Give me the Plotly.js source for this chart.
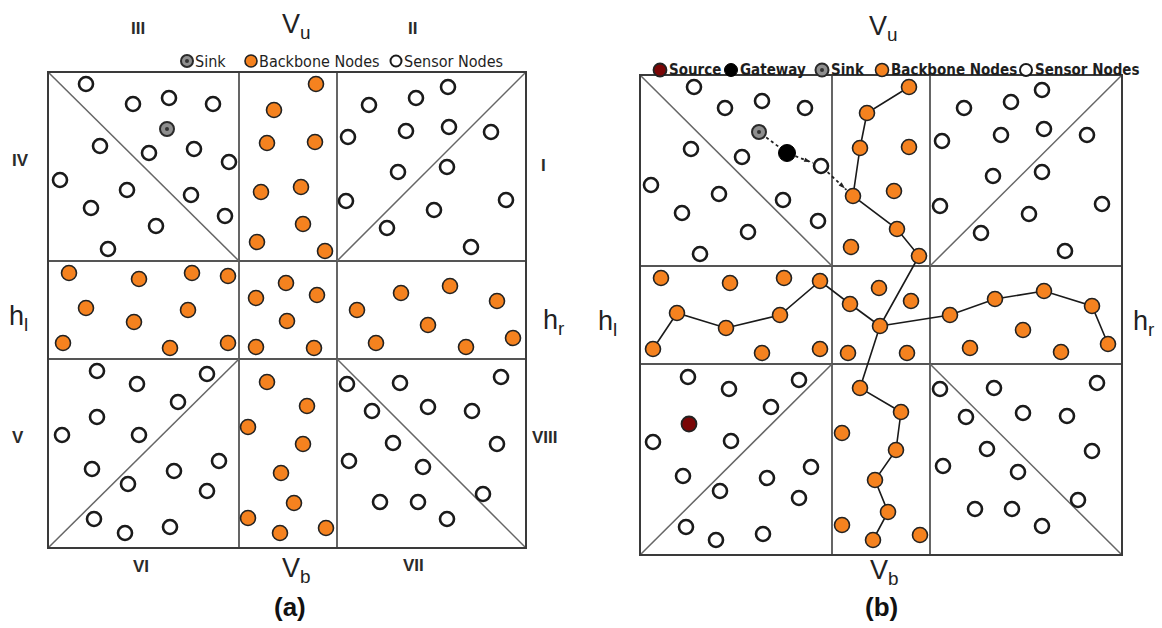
<!DOCTYPE html>
<html><head><meta charset="utf-8">
<script src="https://cdn.plot.ly/plotly-3.0.1.min.js"></script>
<style>html,body{margin:0;padding:0;background:#fff;overflow:hidden}#chart{width:1162px;height:628px}</style>
</head><body><div id="chart"></div>
<script>
// ---------- Panel (a) data ----------
const aSensors = [
  [86,84],[133,104],[169,98],[213,104],[100,146],[149,153],[194,149],[229,162],[60,180],[127,190],[191,195],[91,208],[225,216],[156,226],[108,249],
  [448,87],[416,98],[369,105],[406,131],[449,127],[491,132],[348,137],[398,172],[447,167],[346,201],[506,200],[434,210],[387,228],[471,247],
  [97,371],[137,384],[207,374],[178,402],[97,417],[62,435],[139,435],[92,469],[219,461],[174,471],[128,484],[207,491],[94,519],[125,533],[170,527],
  [347,384],[400,383],[501,377],[372,411],[428,407],[472,411],[393,443],[497,444],[349,461],[423,467],[483,494],[380,502],[418,502],[447,519]
];
const aBackbone = [
  [274,110],[316,84],[267,143],[315,142],[261,192],[301,187],[303,224],[257,242],[325,251],
  [69,273],[139,279],[192,273],[228,276],[86,308],[134,322],[188,310],[63,343],[170,348],[228,343],
  [256,298],[286,283],[317,295],[287,321],[256,347],[314,348],
  [401,293],[450,286],[497,301],[357,310],[428,325],[376,343],[466,347],[513,338],
  [267,382],[307,406],[248,427],[303,444],[281,473],[294,503],[248,518],[280,533],[326,528]
];
const aSink = [[167,129]];

// ---------- Panel (b) data ----------
const bSensors = [
  [694,87],[725,108],[762,101],[805,108],[691,149],[742,157],[821,166],[651,185],[719,194],[783,200],[682,213],[818,221],[748,232],[700,254],
  [1042,90],[1011,102],[964,108],[1001,135],[1044,129],[1087,135],[942,141],[993,176],[1042,172],[940,206],[1102,204],[1029,214],[981,233],[1065,251],
  [688,377],[729,389],[799,380],[771,407],[653,442],[731,441],[683,476],[811,467],[767,478],[720,491],[799,498],[686,527],[716,540],[763,534],
  [940,389],[994,388],[1097,383],[966,417],[1023,413],[1067,416],[987,449],[1092,451],[943,466],[1018,472],[1078,500],[975,509],[1012,509],[1042,526]
];
const bBackbone = [
  [909,87],[867,113],[860,148],[909,147],[853,196],[894,191],[897,229],[851,247],[919,256],
  [661,278],[730,283],[784,278],[820,281],[677,313],[726,328],[780,315],[653,349],[762,353],[820,349],
  [850,304],[879,288],[911,301],[880,326],[848,353],[907,353],
  [995,299],[1044,291],[1092,306],[950,315],[1023,330],[970,348],[1061,352],[1108,344],
  [860,388],[901,412],[842,433],[896,450],[875,480],[888,512],[842,525],[873,540],[920,535]
];
const bSink = [[759,132]];
const bGateway = [[787,153]];
const bSource = [[689,424]];
// routes through backbone (indices into bBackbone)
const bRoutes = [
  [0,1,2,4,6,8,22],
  [16,13,14,15,12,19,22],
  [22,28,25,26,27,32],
  [22,33,34,36,37,38,40]
];
// dashed forwarding path: sink -> gateway -> sensor -> backbone
const bForward = [bSink[0], bGateway[0], bSensors[6], bBackbone[4]];

// ---------- legends and labels ----------
const legendA = [
  {kind:'sink', label:'Sink', x:187, tx:193, y:61},
  {kind:'backbone', label:'Backbone Nodes', x:251, tx:257, y:61},
  {kind:'sensor', label:'Sensor Nodes', x:396, tx:402, y:61}
];
const legendB = [
  {kind:'source', label:'Source', x:660, tx:667, y:70},
  {kind:'gateway', label:'Gateway', x:731, tx:738, y:70},
  {kind:'sink', label:'Sink', x:822, tx:829, y:70},
  {kind:'backbone', label:'Backbone Nodes', x:882, tx:889, y:70},
  {kind:'sensor', label:'Sensor Nodes', x:1026, tx:1033, y:70}
];
const romanA = [
  ['III',138,28],['II',412,28],['IV',20,160],['I',543,165],
  ['V',18,437],['VIII',545,437],['VI',141,566],['VII',413,565]
];
const bigLabels = [
  ['V<sub>u</sub>',296,26],['h<sub>l</sub>',18,318],['h<sub>r</sub>',553,322],['V<sub>b</sub>',296,570],
  ['V<sub>u</sub>',883,28],['h<sub>l</sub>',607,323],['h<sub>r</sub>',1143,323],['V<sub>b</sub>',884,572]
];
const panelTags = [['(a)',290,607],['(b)',881,607]];

// ---------- geometry of the two grids ----------
const gridA = {x:[48,239,337,526], y:[72,261,359,548]};
const gridB = {x:[640,832,930,1122], y:[75,266,364,555]};

const X = p => p.map(q=>q[0]);
const Y = p => p.map(q=>q[1]);

const sensorM = {symbol:'circle', size:14, color:'#ffffff', line:{color:'#1a1a1a', width:2.6}};
const backM = {symbol:'circle', size:15, color:'#F5821F', line:{color:'#222', width:1.6}};
const sinkM = {symbol:'circle', size:14, color:'#8f8f8f', line:{color:'#2a2a2a', width:2}};
const sinkDot = {symbol:'circle', size:4, color:'#333', line:{width:0}};
const gateM = {symbol:'circle', size:17, color:'#000', line:{color:'#000', width:1}};
const srcM = {symbol:'circle', size:15, color:'#7a0606', line:{color:'#222', width:1.8}};

const traces = [];
bRoutes.forEach(r => {
  traces.push({type:'scatter', mode:'lines', x:r.map(i=>bBackbone[i][0]), y:r.map(i=>bBackbone[i][1]),
    line:{color:'#1a1a1a', width:1.6}, hoverinfo:'skip', showlegend:false});
});
for (let i=0;i<bForward.length-1;i++){
  const p=bForward[i], q=bForward[i+1];
  const dx=q[0]-p[0], dy=q[1]-p[1], L=Math.hypot(dx,dy);
  const ux=dx/L, uy=dy/L, r0=9, r1=9;
  const s=[p[0]+ux*r0, p[1]+uy*r0], e=[q[0]-ux*r1, q[1]-uy*r1];
  traces.push({type:'scatter', mode:'lines', x:[s[0],e[0]], y:[s[1],e[1]],
    line:{color:'#222', width:1.8, dash:'3px,3px'}, hoverinfo:'skip', showlegend:false});
  if (i>0){
    const ang = Math.atan2(dx,-dy)*180/Math.PI;
    traces.push({type:'scatter', mode:'markers', x:[e[0]-ux*2], y:[e[1]-uy*2],
      marker:{symbol:'arrow', size:7, angle:ang, color:'#222', line:{width:0}}, hoverinfo:'skip', showlegend:false});
  }
}
function nodes(pts, m){ traces.push({type:'scatter', mode:'markers', x:X(pts), y:Y(pts), marker:m, hoverinfo:'skip', showlegend:false}); }
nodes(aSensors, sensorM); nodes(aBackbone, backM); nodes(aSink, sinkM); nodes(aSink, sinkDot);
nodes(bSensors, sensorM); nodes(bBackbone, backM); nodes(bSink, sinkM); nodes(bSink, sinkDot);
nodes(bGateway, gateM); nodes(bSource, srcM);

const annotations = [];
const legendFont = 'DejaVu Sans Condensed, Liberation Sans Narrow, sans-serif';
function legend(items, fsize, msize, bold){
  items.forEach(it => {
    const pt=[[it.x,it.y]];
    if (it.kind==='sensor') nodes(pt, Object.assign({}, sensorM, {size:msize-1, line:{color:'#1a1a1a', width:2}}));
    if (it.kind==='backbone') nodes(pt, Object.assign({}, backM, {size:msize}));
    if (it.kind==='sink') { nodes(pt, Object.assign({}, sinkM, {size:msize})); nodes(pt, sinkDot); }
    if (it.kind==='gateway') nodes(pt, Object.assign({}, gateM, {size:msize}));
    if (it.kind==='source') nodes(pt, Object.assign({}, srcM, {size:msize}));
    annotations.push({x:it.tx, y:it.y, xref:'x', yref:'y', xanchor:'left', yanchor:'middle', showarrow:false,
      text: bold ? '<b>'+it.label+'</b>' : it.label, font:{family:legendFont, size:fsize, color:'#1e1e1e'}});
  });
}
legend(legendA, 16, 12, false);
legend(legendB, 15, 13, true);

romanA.forEach(t => annotations.push({x:t[1], y:t[2], xref:'x', yref:'y', showarrow:false, text:'<b>'+t[0]+'</b>',
  font:{family:'Liberation Sans, Arial, sans-serif', size:17, color:'#2a2a2a'}}));
bigLabels.forEach(t => annotations.push({x:t[1], y:t[2], xref:'x', yref:'y', showarrow:false, text:t[0],
  font:{family:'Liberation Sans, Arial, sans-serif', size:27, color:'#222'}}));
panelTags.forEach(t => annotations.push({x:t[1], y:t[2], xref:'x', yref:'y', showarrow:false, text:'<b>'+t[0]+'</b>',
  font:{family:'Liberation Sans, Arial, sans-serif', size:26, color:'#111'}}));

const shapes = [];
function grid(g){
  const [x0,x1,x2,x3]=g.x, [y0,y1,y2,y3]=g.y;
  const ln=(a,b,c,d,col,w)=>shapes.push({type:'line', xref:'x', yref:'y', x0:a, y0:b, x1:c, y1:d, layer:'below', line:{color:col, width:w}});
  ln(x1,y0,x1,y3,'#555',1.8); ln(x2,y0,x2,y3,'#555',1.8);
  ln(x0,y1,x3,y1,'#555',1.8); ln(x0,y2,x3,y2,'#555',1.8);
  ln(x0,y0,x1,y1,'#666',1.5); ln(x2,y1,x3,y0,'#666',1.5);
  ln(x0,y3,x1,y2,'#666',1.5); ln(x2,y2,x3,y3,'#666',1.5);
  shapes.push({type:'rect', xref:'x', yref:'y', x0:x0, y0:y0, x1:x3, y1:y3, layer:'below', line:{color:'#3a3a3a', width:2}});
}
grid(gridA); grid(gridB);

const layout = {
  width:1162, height:628, margin:{l:0,r:0,t:0,b:0},
  paper_bgcolor:'#fff', plot_bgcolor:'#fff',
  xaxis:{range:[0,1162], visible:false, fixedrange:true},
  yaxis:{range:[628,0], visible:false, fixedrange:true},
  shapes:shapes, annotations:annotations, showlegend:false
};
Plotly.newPlot('chart', traces, layout, {staticPlot:true, displayModeBar:false});
</script></body></html>
